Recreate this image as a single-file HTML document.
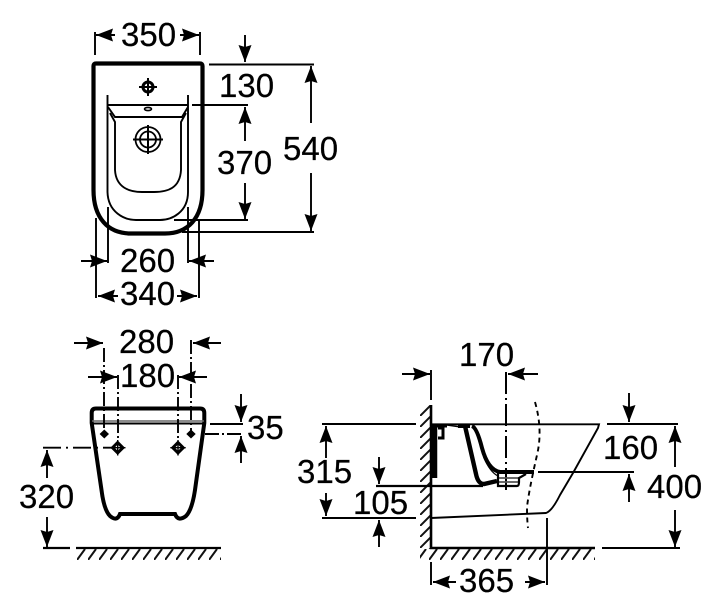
<!DOCTYPE html>
<html><head><meta charset="utf-8">
<style>
html,body{margin:0;padding:0;background:#fff}
svg{display:block;filter:blur(0.35px)}
text{font-family:"Liberation Sans",sans-serif;font-size:33px;fill:#000;stroke:#000;stroke-width:.25px}
</style></head>
<body>
<svg width="720" height="615" viewBox="0 0 720 615" xmlns="http://www.w3.org/2000/svg">
<defs>
<marker id="a" markerUnits="userSpaceOnUse" markerWidth="18" markerHeight="16" refX="17" refY="8" orient="auto">
<path d="M0,1.5 L17,8 L0,14.5 L2,8 Z" fill="#000"/>
</marker>
<pattern id="hf" width="11" height="11" patternUnits="userSpaceOnUse" patternTransform="translate(0,549)">
<path d="M0,11 L8,0" stroke="#111" stroke-width="2" fill="none"/>
</pattern>
<pattern id="hw" width="11" height="11" patternUnits="userSpaceOnUse" patternTransform="translate(420,405)">
<path d="M-1,12 L12,-1" stroke="#111" stroke-width="2" fill="none"/>
</pattern>
</defs>

<g fill="none" stroke="#000" stroke-width="1.9">
<!-- TOP VIEW -->
<path d="M93.5,66 Q93.5,63.5 96,63.5 L200,63.5 Q202.5,63.5 202.5,66 L202.5,190 C202.5,218 188,233.5 165,233.5 L131,233.5 C108,233.5 93.5,218 93.5,190 Z" stroke-width="4.2"/>
<path d="M107.5,95 L107.5,192 C108,212 124,220 136,220 L160,220 C172,220 188,212 188,192 L188,95"/>
<path d="M108,105 L188,105"/>
<path d="M108,107 L115,117 L182,117 L188,107"/>
<path d="M110,113 L115,122 L115,170 C116,188 130,192 142,192 L154,192 C168,192 180,188 181,170 L181,122 L186,113" stroke-width="1.9"/>
<ellipse cx="148" cy="109" rx="3.5" ry="1.6" stroke-width="1.6"/>
<!-- small hole -->
<circle cx="148" cy="87" r="5" stroke-width="3"/>
<path d="M148,78 V96 M139,87 H157" stroke-width="2"/>
<!-- big hole -->
<circle cx="148" cy="139.5" r="12.5" stroke-width="1.8"/>
<circle cx="148" cy="139.5" r="8" stroke-width="1.8"/>
<path d="M148,125 V154 M133,139.5 H163" stroke-width="2"/>

<!-- top dims -->
<path d="M95,32 V55 M200,32 V55"/>
<path d="M115,35 L96,35" marker-end="url(#a)"/>
<path d="M180,35 L199,35" marker-end="url(#a)"/>
<path d="M245,35 L245,62" marker-end="url(#a)"/>
<path d="M209,64.5 H314 M192,105 H248 M174,220 H248 M182,232 H314"/>
<path d="M311,123 L311,66" marker-end="url(#a)"/>
<path d="M311,173 L311,231" marker-end="url(#a)"/>
<path d="M245,141 L245,107" marker-end="url(#a)"/>
<path d="M245,183 L245,219" marker-end="url(#a)"/>
<path d="M96,218 V298 M199,220 V298 M108,207 V263 M188,207 V263"/>
<path d="M81,261 L107,261" marker-end="url(#a)"/>
<path d="M214,261 L189,261" marker-end="url(#a)"/>
<path d="M118,296 L98,296" marker-end="url(#a)"/>
<path d="M177,296 L197,296" marker-end="url(#a)"/>

<!-- FRONT VIEW -->
<path d="M91.7,423 L91.7,413 Q91.7,408.5 96,408.5 L200,408.5 Q204.3,408.5 204.3,413 L204.3,423 L195,490 Q192,510 186,516 Q178,522 175,514 L120,514 Q117,522 110,516 Q104,510 101.5,490 Z" stroke-width="4"/>
<path d="M92,421 H204" stroke="#666" stroke-width="1.6"/>
<path d="M92,423.5 H204" stroke-width="1.9"/>
<path d="M104,348 V432 M191,340 V432 M118,375 V440 M178,375 V440" stroke-dasharray="14 3 2 3" stroke-width="1.9"/>
<path d="M74,343 L103,343" marker-end="url(#a)"/>
<path d="M221,343 L193,343" marker-end="url(#a)"/>
<path d="M88,377 L117,377" marker-end="url(#a)"/>
<path d="M207,377 L179,377" marker-end="url(#a)"/>
<path d="M210,424 H243"/>
<path d="M205,434 H243" stroke-dasharray="14 3 2 3"/>
<path d="M241,394 L241,422" marker-end="url(#a)"/>
<path d="M241,463 L241,436" marker-end="url(#a)"/>
<path d="M43,447.7 H115" stroke-dasharray="18 5 2 5" stroke-width="1.9"/>
<path d="M47,478 L47,450" marker-end="url(#a)"/>
<path d="M47,517 L47,547" marker-end="url(#a)"/>
<path d="M43,548 H70 M76,548 H221" stroke-width="2.2"/>
</g>
<g fill="#000">
<path d="M104.3,429.5 L109,434 L104.3,438.5 L99.6,434 Z M191,429.5 L195.7,434 L191,438.5 L186.3,434 Z"/>
</g>
<g fill="#fff" stroke="#000" stroke-width="3">
<path d="M117.7,442.5 L122.9,447.7 L117.7,452.9 L112.5,447.7 Z M178,442.5 L183.2,447.7 L178,452.9 L172.8,447.7 Z"/>
</g>
<path d="M117.7,440 V455.5 M110,447.7 H125.5 M178,440 V455.5 M170.3,447.7 H185.7" stroke="#000" stroke-width="1.4" fill="none"/>
<rect x="76" y="549" width="145" height="11" fill="url(#hf)"/>

<!-- SIDE VIEW -->
<rect x="420" y="405" width="11" height="144" fill="url(#hw)"/>
<rect x="420" y="549" width="175" height="11" fill="url(#hf)"/>
<g fill="none" stroke="#000" stroke-width="1.9">
<path d="M431,370 V400"/>
<path d="M431,405 V548 H595" stroke-width="2.6"/>
<path d="M431,424.3 H599 L598,428 L573,473 L560,495 Q552,511 546,513 L431,518"/>
<path d="M322,424 H416 M322,518 H416"/>
<path d="M326,458 L326,426" marker-end="url(#a)"/>
<path d="M326,493 L326,516" marker-end="url(#a)"/>
<path d="M376,486 H483" stroke-width="2.2"/>
<path d="M379,457 L379,484" marker-end="url(#a)"/>
<path d="M379,547 L379,520" marker-end="url(#a)"/>
<path d="M402,374 L430,374" marker-end="url(#a)"/>
<path d="M538,374 L508,374" marker-end="url(#a)"/>
<path d="M506,372 V493" stroke-dasharray="22 4 2 4" stroke-width="2"/>
<path d="M535,402 Q543,430 537,455 Q529,490 527,507 Q527,520 528,528" stroke-dasharray="5 4" stroke-width="1.9"/>
<path d="M629,393 L629,422" marker-end="url(#a)"/>
<path d="M629,502 L629,474" marker-end="url(#a)"/>
<path d="M607,424 H678 M538,472 H634 M602,548 H680"/>
<path d="M675,467 L675,426" marker-end="url(#a)"/>
<path d="M675,510 L675,547" marker-end="url(#a)"/>
<path d="M431,562 V585 M547,518 V585"/>
<path d="M456,582 L433,582" marker-end="url(#a)"/>
<path d="M525,582 L545,582" marker-end="url(#a)"/>

<!-- bowl -->
<path d="M434,426 V478" stroke-width="6.5"/>
<path d="M431,425.5 H447 M458,426 H470" stroke-width="4"/>
<path d="M447,425 L461,427" stroke-width="1.4"/>
<path d="M438,428 H443 V438 H438" stroke-width="3"/>
<path d="M465,426 L476,474 Q478,484 484,484 L497,481" stroke-width="4.4"/>
<path d="M472,426 Q477,428 482,448 Q488,470 500,472 H534" stroke-width="4"/>
<path d="M475,428 L484,458 Q490,472 498,476" stroke-width="1.2"/>
<path d="M498,478 H518 M498,482 H518" stroke="#555" stroke-width="1.8"/>
<path d="M498,473 L498,486 H517 Q519,486 519,482 V478 L526,474" stroke-width="2.2"/>
</g>

<text x="121" y="46">350</text>
<text x="219" y="97">130</text>
<text x="217" y="174">370</text>
<text x="283" y="160">540</text>
<text x="120" y="272">260</text>
<text x="120" y="305">340</text>
<text x="119" y="353">280</text>
<text x="120" y="387">180</text>
<text x="247" y="439">35</text>
<text x="19" y="508">320</text>
<text x="459" y="366">170</text>
<text x="603" y="459">160</text>
<text x="647" y="498">400</text>
<text x="297" y="483">315</text>
<text x="353" y="514">105</text>
<text x="459" y="592">365</text>
</svg>
</body></html>
